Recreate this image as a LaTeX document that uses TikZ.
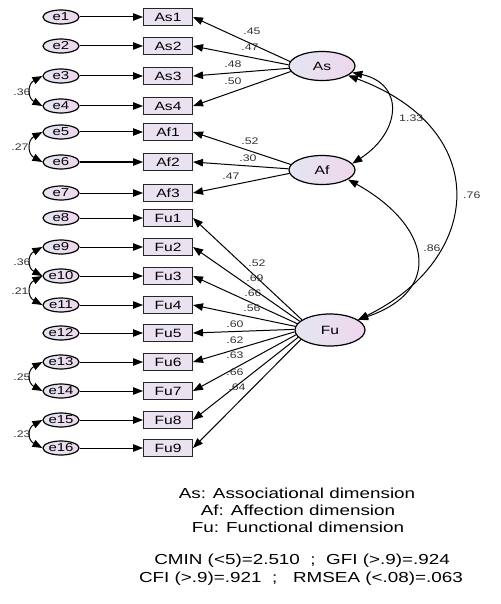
\documentclass[tikz,border=0pt]{standalone}
\usepackage{fontspec}
\setmainfont{Liberation Sans}[FakeStretch=1.3]
\usetikzlibrary{arrows.meta,shapes.geometric,calc}
\definecolor{elL}{RGB}{228,230,242}
\definecolor{elR}{RGB}{238,214,236}
\definecolor{boxF}{RGB}{234,226,240}
\tikzset{
 errnode/.style={ellipse, draw, line width=1.2pt, minimum width=36pt, minimum height=14pt, inner sep=0pt, left color=elL, right color=elR, font=\fontsize{11.5}{12}\selectfont},
 obsbox/.style={rectangle, draw=black!85, line width=1pt, minimum width=49pt, minimum height=17pt, inner sep=0pt, fill=boxF, font=\fontsize{12}{12}\selectfont},
 latent/.style={ellipse, draw, line width=1.2pt, minimum width=66pt, minimum height=29pt, inner sep=0pt, left color=elL, right color=elR, font=\fontsize{12}{12}\selectfont},
 arr/.style={-{Triangle[length=10pt,width=7.5pt]}, line width=1pt},
 biarr/.style={{Triangle[length=10pt,width=7.5pt]}-{Triangle[length=10pt,width=7.5pt]}, line width=1pt},
 num/.style={font=\fontsize{9.5}{10}\selectfont, text=black!80, inner sep=0pt},
 legend/.style={font=\fontsize{14.5}{16}\selectfont, inner sep=0pt},
}
\begin{document}
\begin{tikzpicture}[x=1pt,y=-1pt]
\useasboundingbox (0,0) rectangle (500,604);
% error terms and observed variables
\foreach \n/\lab/\yy in {1/As1/17,2/As2/46,3/As3/76,4/As4/106,5/Af1/132,6/Af2/162,7/Af3/193,8/Fu1/218,9/Fu2/247,10/Fu3/276,11/Fu4/305,12/Fu5/333,13/Fu6/362,14/Fu7/391,15/Fu8/420,16/Fu9/448}{
  \node[errnode] (e\n) at (61,\yy) {e\n};
  \node[obsbox] (\lab) at (168,\yy) {\lab};
  \draw[arr] (e\n) -- (\lab);
}
% latent variables
\node[latent] (As) at (322,66) {As};
\node[latent] (Af) at (322,170) {Af};
\node[latent, minimum width=70pt, minimum height=32pt] (Fu) at (330,330) {Fu};
% loadings
\draw[arr] (As.172) -- (As1.east);
\draw[arr] (As.178) -- (As2.east);
\draw[arr] (As.184) -- (As3.east);
\draw[arr] (As.190) -- (As4.east);
\draw[arr] (Af.170) -- (Af1.east);
\draw[arr] (Af.178) -- (Af2.east);
\draw[arr] (Af.186) -- (Af3.east);
\foreach \i [evaluate=\i as \ang using {160+(\i-1)*4.75}] in {1,...,9}{
  \draw[arr] (Fu.\ang) -- (Fu\i.east);
}
% loading labels
\node[num] (lAs1) at (252,31) {.45};
\node[num] (lAs2) at (250,47) {.47};
\node[num] (lAs3) at (233,64) {.48};
\node[num] (lAs4) at (233,81) {.50};
\node[num] (lAf1) at (250,141) {.52};
\node[num] (lAf2) at (248,158) {.30};
\node[num] (lAf3) at (231,176) {.47};
\node[num] (lFu1) at (257,263) {.52};
\node[num] (lFu2) at (255,278) {.69};
\node[num] (lFu3) at (253,293) {.66};
\node[num] (lFu4) at (252,308) {.56};
\node[num] (lFu5) at (235,324) {.60};
\node[num] (lFu6) at (235,340) {.62};
\node[num] (lFu7) at (235,355) {.63};
\node[num] (lFu8) at (235,372) {.66};
\node[num] (lFu9) at (237,387) {.64};
% latent covariances
\draw[biarr] (As.-12) .. controls (405,84) and (401,132) .. (Af.12);
\draw[biarr] (As.-20) .. controls (495,130) and (482,260) .. (Fu.20);
\draw[biarr] (Af.-20) .. controls (430,225) and (445,290) .. (Fu.20);
\node[num, anchor=west] (c1) at (399,118) {1.33};
\node[num, anchor=west] (c2) at (463,195) {.76};
\node[num] (c3) at (432,248) {.86};
% error covariances
\node[num] (r1) at (22,92) {.36};
\node[num] (r2) at (20,147) {.27};
\node[num] (r3) at (22,262) {.36};
\node[num] (r4) at (20,291) {.21};
\node[num] (r5) at (22,377) {.25};
\node[num] (r6) at (22,434) {.23};
\foreach \a/\b in {e3/e4,e5/e6,e9/e10,e10/e11,e13/e14,e15/e16}{
  \draw[biarr] (\a.west) .. controls +(-15,8) and +(-15,-8) .. (\b.west);
}
% legend
\node[legend] (L1) at (297,493) {As: Associational dimension};
\node[legend] (L2) at (298,510) {Af: Affection dimension};
\node[legend] (L3) at (298,527) {Fu: Functional dimension};
\node[legend, anchor=east] (L4) at (450,561) {CMIN (<5)=2.510\ \ ;\ \ GFI (>.9)=.924};
\node[legend, anchor=east] (L5) at (463,579) {CFI (>.9)=.921\ \ ;\ \ \ RMSEA (<.08)=.063};
\end{tikzpicture}
\end{document}
